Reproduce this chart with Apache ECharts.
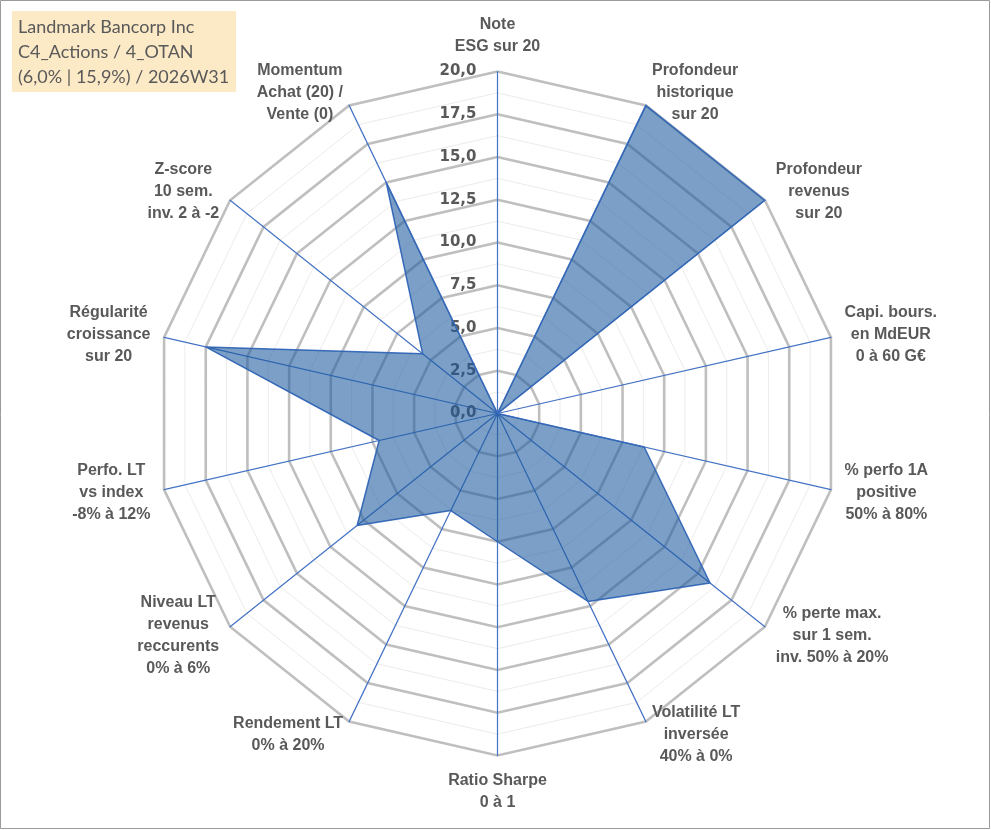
<!DOCTYPE html>
<html>
<head>
<meta charset="utf-8">
<script src="https://cdn.jsdelivr.net/npm/echarts@6/dist/echarts.min.js"></script>
<style>
html, body { margin: 0; padding: 0; background: #fff; }
#main { width: 991px; height: 830px; }
</style>
</head>
<body>
<div id="main"></div>
<script>
// axes dans l'ordre Excel (sens horaire, depuis le haut)
var axisNames = [
    'Note\nESG sur 20',
    'Profondeur\nhistorique\nsur 20',
    'Profondeur\nrevenus\nsur 20',
    'Capi. bours.\nen MdEUR\n0 à 60 G€',
    '% perfo 1A\npositive\n50% à 80%',
    '% perte max.\nsur 1 sem.\ninv. 50% à 20%',
    'Volatilité LT\ninversée\n40% à 0%',
    'Ratio Sharpe\n0 à 1',
    'Rendement LT\n0% à 20%',
    'Niveau LT\nrevenus\nreccurents\n0% à 6%',
    'Perfo. LT\nvs index\n-8% à 12%',
    'Régularité\ncroissance\nsur 20',
    'Z-score\n10 sem.\ninv. 2 à -2',
    'Momentum\nAchat (20) /\nVente (0)'
];
var scores = [0, 20, 20, 0, 8.8, 15.9, 12.2, 7.5, 6.3, 10.5, 7.1, 17.5, 5.6, 15];
var scoreMax = 20;
var majorSteps = 8;   // 2,5 par cercle
var minorSteps = 16;
var titleLines = ['Landmark Bancorp Inc', 'C4_Actions / 4_OTAN', '(6,0% | 15,9%) / 2026W31'];

var textGray = '#595959';
var blue = '#4472C4';

// ECharts tourne dans le sens anti-horaire -> on inverse tout sauf le premier
var order = [0];
for (var i = axisNames.length - 1; i > 0; i--) order.push(i);

function indicators(withLabels) {
    return order.map(function (k, j) {
        var ind = { name: axisNames[k], min: 0, max: scoreMax };
        if (withLabels && j === 0) {
            ind.axisLabel = {
                show: true,
                color: textGray,
                fontFamily: 'DejaVu Sans',
                fontWeight: 'bold',
                fontSize: 15,
                margin: 21,
                formatter: function (v) { return v.toFixed(1).replace('.', ','); }
            };
        }
        return ind;
    });
}

var center = [497.5, 413.5];
var radius = 342;

var myChart = echarts.init(document.getElementById('main'));
var option = {
    backgroundColor: '#fff',
    animation: false,
    graphic: [
        {
            type: 'rect',
            shape: { x: 0.5, y: 0.5, width: 989, height: 828 },
            style: { fill: 'none', stroke: '#9a9a9a', lineWidth: 1 },
            silent: true
        },
        {
            type: 'rect',
            shape: { x: 12, y: 11, width: 224, height: 81 },
            style: { fill: '#fce9c6' },
            silent: true
        },
        {
            type: 'text',
            left: 18, top: 15,
            style: {
                text: titleLines.join('\n'),
                fill: textGray,
                font: '18px Lato',
                lineHeight: 25
            },
            silent: true
        }
    ],
    radar: [
        {
            // petits cercles clairs
            center: center,
            radius: radius,
            startAngle: 90,
            shape: 'polygon',
            splitNumber: minorSteps,
            indicator: indicators(false),
            axisName: { show: false },
            axisLine: { show: false },
            axisTick: { show: false },
            axisLabel: { show: false },
            splitArea: { show: false },
            splitLine: { lineStyle: { color: '#ececec', width: 1 } }
        },
        {
            center: center,
            radius: radius,
            startAngle: 90,
            shape: 'polygon',
            splitNumber: majorSteps,
            indicator: indicators(true),
            nameGap: 14,
            axisName: {
                color: textGray,
                fontFamily: 'Liberation Sans',
                fontWeight: 'bold',
                fontSize: 16,
                lineHeight: 22,
                formatter: function (name) {
                    return name.split('\n').map(function (s) { return '{c|' + s + '}'; }).join('\n');
                },
                rich: {
                    c: {
                        align: 'center',
                        color: textGray,
                        fontFamily: 'Liberation Sans',
                        fontWeight: 'bold',
                        fontSize: 16,
                        lineHeight: 22
                    }
                }
            },
            axisLine: { lineStyle: { color: blue, width: 1.2 } },
            axisTick: { show: false },
            axisLabel: { show: false },
            splitArea: { show: false },
            splitLine: { lineStyle: { color: '#bfbfbf', width: 2.6 } }
        }
    ],
    series: [
        {
            type: 'radar',
            radarIndex: 1,
            symbol: 'none',
            lineStyle: { color: blue, width: 1.5 },
            areaStyle: { color: 'rgb(28, 90, 158)', opacity: 0.58 },
            data: [{ value: order.map(function (k) { return scores[k]; }) }]
        }
    ]
};
myChart.setOption(option);
window.onresize = myChart.resize;
</script>
</body>
</html>
